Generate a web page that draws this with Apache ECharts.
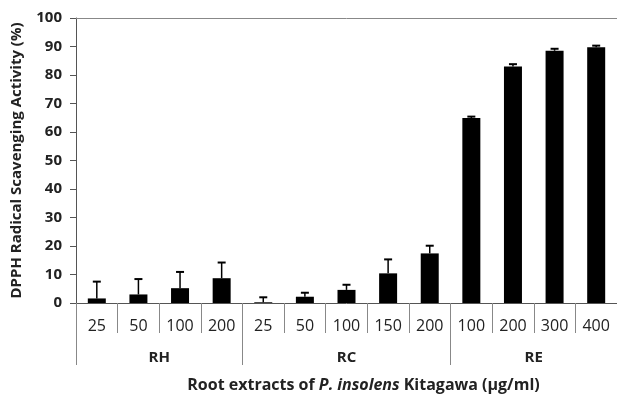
<!DOCTYPE html>
<html>
<head>
<meta charset="utf-8">
<script src="https://cdn.jsdelivr.net/npm/echarts@6/dist/echarts.min.js"></script>
<style>html,body{margin:0;padding:0;background:#fff;}#c{width:617px;height:394px;}</style>
</head>
<body>
<div id="c"></div>
<script>
var categories = ['25','50','100','200','25','50','100','150','200','100','200','300','400'];
var values = [1.6, 3.0, 5.2, 8.7, 0.25, 2.2, 4.6, 10.4, 17.4, 64.9, 83.0, 88.5, 89.7];
var errorTops = [7.5, 8.4, 10.9, 14.2, 2.0, 3.6, 6.4, 15.3, 20.1, 65.4, 83.8, 89.2, 90.3];
var groups = ['RH', 'RC', 'RE'];
var groupCenters = [2, 6.5, 11];
var groupBounds = [0, 4, 9, 13];
var yTicks = [0, 10, 20, 30, 40, 50, 60, 70, 80, 90, 100];

var font = '"Open Sans", "Noto Sans", sans-serif';
var chart = echarts.init(document.getElementById('c'));
var errData = values.map(function (v, i) { return [i, v, errorTops[i]]; });

chart.setOption({
  animation: false,
  backgroundColor: '#fff',
  grid: { left: 76, top: 18, width: 541, bottom: 91, outerBoundsMode: 'none', containLabel: false },
  xAxis: [
    {
      type: 'category', data: categories, position: 'bottom',
      axisLine: { lineStyle: { color: '#555', width: 1 } },
      axisTick: { show: true, length: 30, lineStyle: { color: '#888' } },
      axisLabel: { fontFamily: font, fontSize: 16, color: '#222', margin: 15 }
    },
    {
      type: 'value', min: 0, max: 13, position: 'bottom',
      axisLine: { show: false },
      splitLine: { show: false },
      axisTick: { show: true, length: 62, customValues: groupBounds, lineStyle: { color: '#888' } },
      axisLabel: {
        customValues: groupCenters, fontFamily: font, fontSize: 15, color: '#222', margin: 47,
        fontWeight: 'bold',
        formatter: function (v) { var k = groupCenters.indexOf(v); return k >= 0 ? groups[k] : ''; }
      },
      name: '{n|Root extracts of }{i|P. insolens}{n| Kitagawa (μg/ml)}',
      nameLocation: 'middle', nameGap: 74,
      nameTextStyle: {
        padding: [0, 0, 0, 34],
        rich: {
          n: { fontFamily: font, fontSize: 16, fontWeight: 'bold', color: '#222' },
          i: { fontFamily: font, fontSize: 16, fontWeight: 'bold', fontStyle: 'italic', color: '#222' }
        }
      }
    },
    {
      type: 'value', min: 0, max: 13, position: 'top',
      axisLine: { show: true, lineStyle: { color: '#888' } },
      axisTick: { show: false }, axisLabel: { show: false }, splitLine: { show: false }
    }
  ],
  yAxis: {
    type: 'value', min: 0, max: 100, interval: 10,
    axisLine: { show: true, lineStyle: { color: '#555' } },
    axisTick: { show: true, length: 6, inside: false, lineStyle: { color: '#555' } },
    splitLine: { show: false },
    axisLabel: { fontFamily: font, fontSize: 15, fontWeight: 'bold', color: '#222', margin: 14 },
    name: 'DPPH Radical Scavenging Activity (%)',
    nameLocation: 'middle', nameGap: 52, nameRotate: 90,
    nameTextStyle: { fontFamily: font, fontSize: 15, fontWeight: 'bold', color: '#222' }
  },
  series: [
    {
      type: 'bar', data: values, barWidth: 18, xAxisIndex: 0,
      itemStyle: { color: '#000' }, z: 2
    },
    {
      type: 'custom', xAxisIndex: 0, data: errData, z: 3,
      renderItem: function (params, api) {
        var i = api.value(0);
        var base = api.coord([i, api.value(1)]);
        var top = api.coord([i, api.value(2)]);
        var half = 4;
        return {
          type: 'group',
          children: [
            { type: 'line', shape: { x1: base[0], y1: base[1], x2: top[0], y2: top[1] }, style: { stroke: '#000', lineWidth: 1.5 } },
            { type: 'line', shape: { x1: top[0] - half, y1: top[1], x2: top[0] + half, y2: top[1] }, style: { stroke: '#000', lineWidth: 2 } }
          ]
        };
      }
    }
  ]
});
</script>
</body>
</html>
